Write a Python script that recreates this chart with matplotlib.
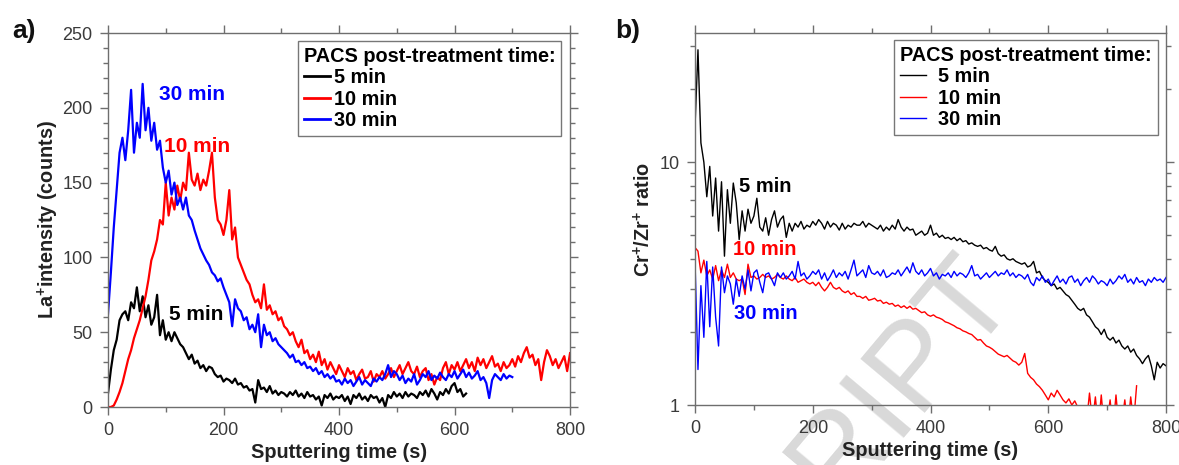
import numpy as np
import matplotlib
matplotlib.use("Agg")
import matplotlib.pyplot as plt
from matplotlib.ticker import MultipleLocator, LogLocator, NullFormatter, FuncFormatter

plt.rcParams['font.family'] = ['Liberation Sans', 'DejaVu Sans']
plt.rcParams['mathtext.fontset'] = 'custom'
plt.rcParams['mathtext.rm'] = 'Liberation Sans:bold'
plt.rcParams['mathtext.bf'] = 'Liberation Sans:bold'

step = 5
series = ['5 min', '10 min', '30 min']
colors = ['#000000', '#ff0000', '#0000ff']

# a) La+ intensity (counts)
la_5 = [9, 25, 38, 45, 58, 62, 64, 58, 70, 66, 80, 64, 74, 60, 68, 55, 60, 75, 48, 58,
        45, 50, 44, 50, 46, 42, 40, 36, 32, 35, 29, 31, 26, 28, 24, 27, 26, 22, 20, 21,
        17, 19, 18, 16, 19, 15, 16, 13, 14, 11, 12, 3, 18, 12, 13, 10, 14, 9, 11, 8,
        10, 9, 7, 10, 8, 11, 7, 9, 6, 10, 7, 8, 5, 7, 1, 8, 6, 9, 5, 7,
        6, 8, 4, 7, 2, 8, 6, 9, 5, 7, 4, 8, 6, 7, 3, 6, 0, 8, 6, 10,
        7, 9, 6, 10, 7, 9, 8, 6, 10, 8, 11, 7, 12, 9, 5, 10, 8, 12, 9, 14,
        16, 10, 12, 7, 9]
la_10 = [0, 0, 1, 5, 10, 16, 24, 32, 38, 46, 52, 58, 66, 74, 85, 98, 104, 112, 125, 122,
         150, 128, 140, 132, 148, 138, 150, 145, 170, 152, 148, 156, 145, 152, 148, 158, 170, 140, 125, 122,
         115, 125, 145, 112, 120, 100, 95, 90, 85, 82, 75, 70, 72, 66, 82, 65, 68, 62, 64, 58,
         60, 54, 52, 48, 50, 44, 40, 45, 36, 38, 32, 35, 30, 37, 28, 32, 25, 30, 26, 22,
         28, 24, 20, 26, 22, 24, 18, 22, 25, 19, 20, 24, 17, 22, 20, 24, 19, 22, 26, 20,
         24, 28, 22, 26, 30, 24, 22, 27, 20, 24, 26, 18, 22, 15, 20, 18, 26, 30, 22, 28,
         25, 30, 24, 28, 32, 26, 30, 24, 33, 28, 32, 26, 30, 34, 27, 29, 24, 30, 26, 28,
         32, 27, 34, 30, 36, 40, 33, 35, 28, 32, 18, 30, 38, 34, 28, 32, 26, 30, 34, 24,
         36]
la_30 = [62, 90, 120, 145, 170, 180, 165, 185, 212, 170, 190, 180, 216, 185, 200, 178, 190, 172, 178, 160,
         150, 158, 142, 150, 135, 140, 132, 140, 128, 125, 118, 112, 106, 102, 98, 95, 90, 88, 84, 86,
         80, 75, 70, 54, 72, 66, 64, 58, 60, 52, 55, 50, 62, 40, 55, 48, 50, 44, 46, 42,
         40, 38, 36, 33, 35, 30, 31, 28, 30, 26, 27, 24, 26, 22, 24, 20, 22, 19, 21, 17,
         18, 15, 19, 16, 18, 14, 17, 20, 15, 18, 16, 14, 19, 17, 20, 18, 22, 28, 20, 24,
         22, 18, 21, 16, 19, 17, 22, 15, 18, 22, 20, 24, 18, 21, 19, 23, 20, 18, 22, 20,
         24, 19, 22, 25, 20, 23, 19, 21, 24, 18, 20, 16, 6, 18, 22, 20, 18, 22, 19, 21,
         20]

# b) Cr+/Zr+ ratio
cr_5 = [14, 29, 12, 10, 7.2, 9.6, 6.0, 8.6, 5.2, 8.3, 4.1, 7.7, 5.6, 8.2, 6.8, 4.8, 6.3, 5.2, 6.4, 5.6,
        6.0, 7.1, 5.4, 5.2, 5.9, 5.0, 5.8, 6.3, 5.4, 5.8, 6.0, 4.9, 5.6, 5.2, 5.6, 5.4, 5.7, 5.3, 5.5, 5.4,
        5.7, 5.5, 5.8, 5.6, 5.3, 5.7, 5.4, 5.6, 5.5, 5.25, 5.6, 5.3, 5.5, 5.4, 5.6, 5.5, 5.5, 5.7, 5.4, 5.6,
        5.5, 5.4, 5.3, 5.5, 5.2, 5.4, 5.25, 5.5, 5.3, 5.8, 5.4, 5.2, 5.4, 5.25, 5.3, 5.0, 5.1, 5.2, 5.0, 5.1,
        5.5, 5.0, 5.1, 4.9, 5.0, 4.85, 4.9, 4.8, 4.9, 4.75, 4.85, 4.7, 4.75, 4.6, 4.65, 4.55, 4.5, 4.55, 4.4, 4.45,
        4.35, 4.3, 4.5, 4.2, 4.1, 4.15, 4.0, 3.95, 4.0, 3.9, 3.85, 3.8, 3.85, 3.7, 3.75, 3.9, 3.5, 3.55, 3.35, 3.25,
        3.2, 3.1, 3.15, 3.0, 3.05, 2.95, 2.85, 2.8, 2.7, 2.6, 2.5, 2.45, 2.5, 2.35, 2.3, 2.2, 2.1, 2.05, 1.95, 2.05,
        1.9, 1.85, 1.9, 1.8, 1.85, 1.75, 1.7, 1.75, 1.65, 1.7, 1.6, 1.55, 1.48, 1.55, 1.6, 1.45, 1.27, 1.5, 1.42, 1.48,
        1.45]
cr_10 = [4.45, 4.3, 3.5, 3.95, 3.4, 3.6, 3.3, 3.75, 3.25, 3.6, 3.35, 3.8, 3.35, 3.5, 3.3, 3.25, 3.3, 2.85, 3.8, 3.35,
         3.4, 3.3, 3.35, 3.45, 3.35, 3.4, 3.3, 3.35, 3.45, 3.35, 3.3, 3.4, 3.3, 3.25, 3.35, 3.2, 3.25, 3.3, 3.2, 3.15,
         3.2, 3.1, 3.2, 3.05, 2.95, 3.05, 3.2, 3.05, 3.0, 3.05, 2.95, 2.9, 2.95, 2.85, 2.9, 2.8, 2.8, 2.75, 2.8, 2.7,
         2.72, 2.75, 2.68, 2.7, 2.62, 2.65, 2.6, 2.62, 2.55, 2.58, 2.52, 2.56, 2.5, 2.55, 2.48, 2.5, 2.45, 2.4, 2.42, 2.35,
         2.32, 2.35, 2.3, 2.28, 2.25, 2.2, 2.18, 2.15, 2.12, 2.08, 2.06, 2.02, 2.0, 1.97, 1.95, 1.9, 1.85, 1.86, 1.8, 1.75,
         1.73, 1.7, 1.66, 1.62, 1.6, 1.58, 1.6, 1.56, 1.52, 1.5, 1.46, 1.5, 1.63, 1.35, 1.3, 1.27, 1.22, 1.19, 1.15, 1.1,
         1.05, 1.12, 1.08, 1.15, 1.1, 1.05, 1.02, 1.06, 1.0, 1.04, 0.98, 0.9, 0.95, 0.85, 1.12, 0.85, 1.08, 0.8, 1.1, 0.8,
         0.85, 1.05, 0.8, 1.1, 0.8, 0.85, 1.05, 0.8, 1.08, 0.85, 1.2]
cr_30 = [3.9, 1.4, 3.1, 1.9, 3.9, 2.1, 3.7, 2.3, 1.75, 3.7, 2.9, 3.4, 3.15, 2.6, 3.3, 2.8, 3.4, 3.0, 3.6, 2.95,
         3.5, 3.6, 3.2, 2.9, 3.45, 3.5, 3.3, 3.1, 3.5, 3.35, 3.5, 3.3, 3.4, 3.55, 3.3, 3.9, 3.4, 3.5, 3.3, 3.4,
         3.55, 3.45, 3.6, 3.3, 3.5, 3.25, 3.4, 3.6, 3.35, 3.5, 3.4, 3.55, 3.3, 3.6, 3.95, 3.4, 3.5, 3.6, 3.35, 3.75,
         3.5, 3.45, 3.55, 3.4, 3.6, 3.35, 3.4, 3.5, 3.45, 3.6, 3.4, 3.55, 3.7, 3.5, 3.85, 3.55, 3.45, 3.6, 3.4, 3.5,
         3.65, 3.4, 3.5, 3.3, 3.45, 3.4, 3.5, 3.35, 3.55, 3.4, 3.5, 3.45, 3.35, 3.5, 3.75, 3.4, 3.45, 3.3, 3.4, 3.5,
         3.35, 3.45, 3.55, 3.4, 3.5, 3.45, 3.6, 3.4, 3.5, 3.35, 3.45, 3.4, 3.3, 3.45, 3.2, 3.1, 3.35, 3.25, 3.4, 3.2,
         3.3, 3.1, 3.25, 3.4, 3.2, 3.3, 3.15, 3.35, 3.4, 3.2, 3.3, 3.1, 3.25, 3.35, 3.2, 3.4, 3.3, 3.15, 3.25, 3.2,
         3.1, 3.3, 3.15, 3.25, 3.4, 3.3, 3.45, 3.2, 3.3, 3.15, 3.35, 3.2, 3.25, 3.1, 3.3, 3.2, 3.35, 3.25, 3.3, 3.2,
         3.35]

spine_c = '#6e6e6e'
label_c = '#3a3a3a'
lab_fs = 14.3
leg_fs = 14.3


def style_axes(ax):
    for s in ax.spines.values():
        s.set_color(spine_c)
        s.set_linewidth(1.0)
    ax.tick_params(which='both', direction='out', top=True, right=True,
                   labeltop=False, labelright=False, color=spine_c,
                   labelcolor=label_c, labelsize=13, width=1.0)
    ax.tick_params(which='major', length=6, pad=5)
    ax.tick_params(which='minor', length=3.5)
    ax.set_xlim(0, 800)
    ax.xaxis.set_major_locator(MultipleLocator(200))
    ax.xaxis.set_minor_locator(MultipleLocator(100))
    ax.set_xlabel('Sputtering time (s)', fontsize=lab_fs, fontweight='bold',
                  color='#222222', labelpad=3)


def add_legend(ax, anchor, pad):
    leg = ax.legend(title='PACS post-treatment time:', loc='upper right',
                    bbox_to_anchor=anchor, borderaxespad=0, fancybox=False,
                    framealpha=1, edgecolor='#777777', handlelength=1.3,
                    handletextpad=pad, labelspacing=0.12, borderpad=0.3,
                    prop={'weight': 'bold', 'size': leg_fs},
                    title_fontproperties={'weight': 'bold', 'size': leg_fs})
    leg._legend_box.align = 'left'
    return leg


fig = plt.figure(figsize=(11.79, 4.65), dpi=100)
ax1 = fig.add_axes([0.0916, 0.1247, 0.3919, 0.8043])
ax2 = fig.add_axes([0.5895, 0.129, 0.3995, 0.800])

# ---- panel a
for vals, c, name in zip([la_5, la_10, la_30], colors, series):
    t = step * np.arange(len(vals))
    ax1.plot(t, vals, color=c, lw=1.6, label=name)
style_axes(ax1)
ax1.set_ylim(0, 250)
ax1.yaxis.set_major_locator(MultipleLocator(50))
ax1.yaxis.set_minor_locator(MultipleLocator(10))
ax1.set_ylabel(r'La$^{\mathbf{+}}$intensity (counts)', fontsize=lab_fs,
               fontweight='bold', color='#222222', labelpad=1)
ax1.text(88, 209, '30 min', color='#0000ff', fontsize=15, fontweight='bold', va='center')
ax1.text(97, 174, '10 min', color='#ff0000', fontsize=15, fontweight='bold', va='center')
ax1.text(105, 62, '5 min', color='#000000', fontsize=15, fontweight='bold', va='center')
leg1 = add_legend(ax1, (0.981, 0.979), 0.25)
for line in leg1.get_lines():
    line.set_linewidth(2)

# ---- panel b
for vals, c, name in zip([cr_5, cr_10, cr_30], colors, series):
    t = step * np.arange(len(vals))
    ax2.plot(t, vals, color=c, lw=1.0, label=name)
style_axes(ax2)
ax2.set_yscale('log')
ax2.set_ylim(1, 34)
ax2.yaxis.set_major_locator(LogLocator(base=10))
ax2.yaxis.set_minor_locator(LogLocator(base=10, subs=np.arange(2, 10)))
ax2.yaxis.set_major_formatter(FuncFormatter(lambda v, p: '%g' % v))
ax2.yaxis.set_minor_formatter(NullFormatter())
ax2.set_ylabel(r'Cr$^{\mathbf{+}}$/Zr$^{\mathbf{+}}$ ratio', fontsize=lab_fs,
               fontweight='bold', color='#222222', labelpad=4)
ax2.text(75, 7.9, '5 min', color='#000000', fontsize=14.5, fontweight='bold', va='center')
ax2.text(65, 4.35, '10 min', color='#ff0000', fontsize=14.5, fontweight='bold', va='center')
ax2.text(66, 2.37, '30 min', color='#0000ff', fontsize=14.5, fontweight='bold', va='center')
add_legend(ax2, (0.983, 0.981), 0.6)

# watermark remnant
ax2.text(0.765, 0.185, 'RIPT', transform=fig.transFigure, fontsize=88,
         color='#d9d9d9', rotation=50, ha='center', va='center',
         rotation_mode='anchor', zorder=0, clip_on=False)

fig.text(0.010, 0.918, 'a)', fontsize=19, fontweight='bold', color='#111111')
fig.text(0.522, 0.918, 'b)', fontsize=19, fontweight='bold', color='#111111')

fig.savefig('out.png', dpi=100)
